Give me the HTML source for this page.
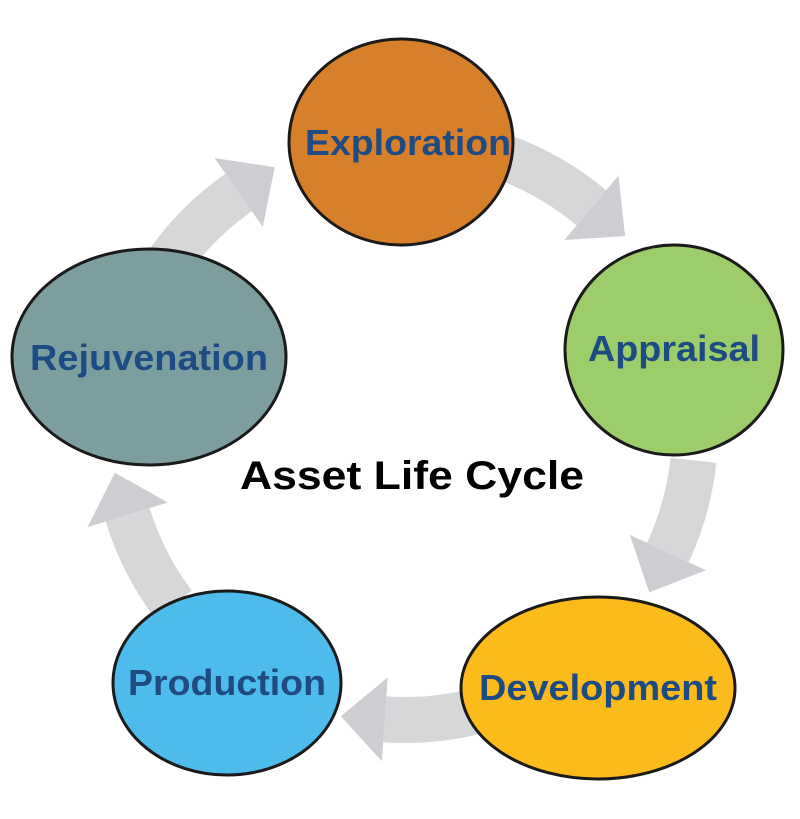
<!DOCTYPE html>
<html><head><meta charset="utf-8"><style>
html,body{margin:0;padding:0;background:#fff;}
svg{display:block;}
text{font-family:"Liberation Sans",Arial,sans-serif;font-weight:bold;}
</style></head><body>
<svg width="800" height="819" viewBox="0 0 800 819" xmlns="http://www.w3.org/2000/svg">
<g transform="translate(405,430)" fill="none" stroke="#d6d7d9" stroke-width="46">
  <g transform="rotate(-72)"><path d="M290,0 A290,290 0 0 1 268.9,108.6"/></g>
  <g transform="rotate(6)"><path d="M290,0 A290,290 0 0 1 274.2,94.4"/></g>
  <g transform="rotate(76)"><path d="M290,0 A290,290 0 0 1 275.8,89.6"/></g>
  <g transform="rotate(143)"><path d="M290,0 A290,290 0 0 1 272.5,99.2"/></g>
  <g transform="rotate(210)"><path d="M290,0 A290,290 0 0 1 262.8,122.6"/></g>
</g>
<g transform="translate(405,430)" fill="#cdced1">
  <g transform="rotate(-50)"><polygon points="248,0 332,0 290,44"/></g>
  <g transform="rotate(25)"><polygon points="248,0 332,0 290,44"/></g>
  <g transform="rotate(94)"><polygon points="248,0 332,0 290,44"/></g>
  <g transform="rotate(163)"><polygon points="248,0 332,0 290,44"/></g>
  <g transform="rotate(235)"><polygon points="248,0 332,0 290,44"/></g>
</g>
<g stroke="#1a1a1a" stroke-width="3">
  <ellipse cx="401" cy="142" rx="112" ry="103" fill="#d87f2a"/>
  <ellipse cx="674" cy="350" rx="109" ry="105" fill="#9ccd6a"/>
  <ellipse cx="598" cy="688" rx="137" ry="91" fill="#fbbb1a"/>
  <ellipse cx="227" cy="683" rx="114" ry="92" fill="#4dbbeb"/>
  <ellipse cx="149" cy="357" rx="137" ry="108" fill="#7d9e9e"/>
</g>
<g fill="#1f4b83" font-size="36" text-anchor="middle">
  <text x="408" y="155" textLength="206" lengthAdjust="spacingAndGlyphs">Exploration</text>
  <text x="674" y="361" textLength="172" lengthAdjust="spacingAndGlyphs">Appraisal</text>
  <text x="598" y="700" textLength="238" lengthAdjust="spacingAndGlyphs">Development</text>
  <text x="227" y="695" textLength="198" lengthAdjust="spacingAndGlyphs">Production</text>
  <text x="149" y="370" textLength="238" lengthAdjust="spacingAndGlyphs">Rejuvenation</text>
</g>
<text x="412" y="489" font-size="40" fill="#000" text-anchor="middle" textLength="344" lengthAdjust="spacingAndGlyphs">Asset Life Cycle</text>
</svg>
</body></html>
